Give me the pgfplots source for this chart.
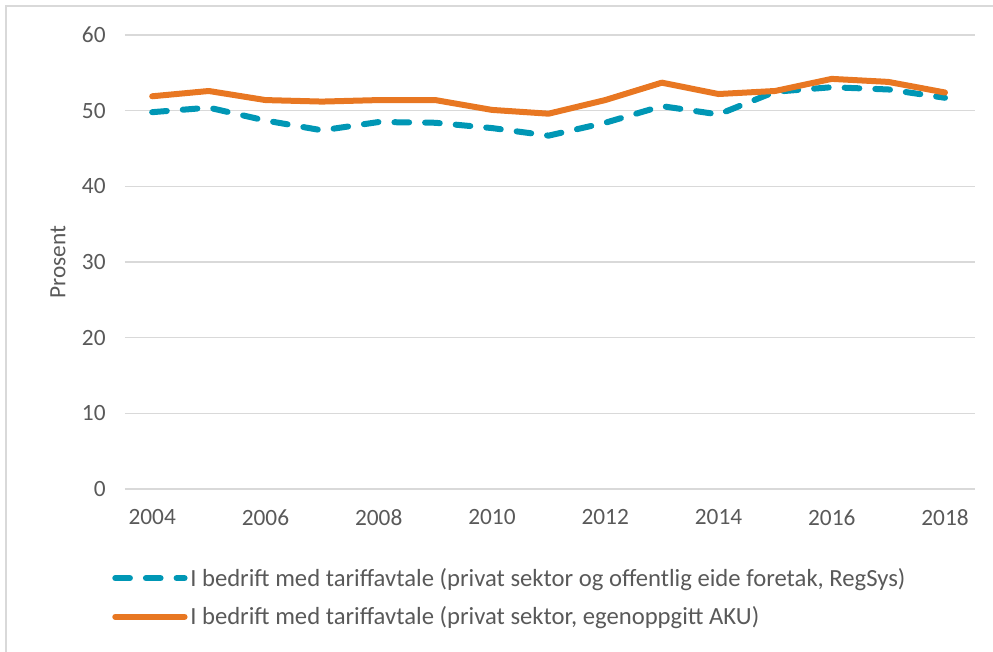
\documentclass[border=0pt]{standalone}
\usepackage{fontspec}
\setmainfont{Carlito}
\usepackage{pgfplots}
\pgfplotsset{compat=1.18}
\definecolor{serA}{RGB}{0,151,181}
\definecolor{serB}{RGB}{232,119,34}
\definecolor{gridc}{RGB}{217,217,217}
\definecolor{textc}{RGB}{89,89,89}
\begin{document}
\begin{tikzpicture}
\useasboundingbox (0,0) rectangle (744.75pt,489pt);
\draw[gridc, line width=1.5pt] (4.5pt,0pt) -- (4.5pt,484.5pt) -- (744.75pt,484.5pt);
\begin{axis}[
  at={(93.75pt,122.25pt)}, anchor=south west,
  scale only axis, width=637.5pt, height=340.5pt,
  xmin=2003.52, xmax=2018.53, ymin=0, ymax=60,
  axis line style={draw=none},
  major tick length=0pt,
  ymajorgrids, grid style={gridc, line width=1.1pt},
  xtick={2004,2006,...,2018}, ytick={0,10,...,60},
  /pgf/number format/1000 sep={},
  /pgf/number format/assume math mode=true,
  tick label style={font=\fontsize{17.5}{20}\selectfont, text=textc},
  yticklabel style={xshift=-11pt},
  xticklabel style={yshift=-12pt},
  ylabel={Prosent},
  ylabel style={at={(rel axis cs:-0.079,0.5)}, anchor=center, font=\fontsize{17.5}{20}\selectfont, text=textc},
  legend style={at={(rel axis cs:-0.02,-0.162)}, anchor=north west, draw=none, fill=none,
    font=\fontsize{18.5}{21}\selectfont, text=textc, row sep=10pt},
  legend cell align=left,
  legend image code/.code={\draw[#1] (0pt,0pt) -- (52pt,0pt);},
]
\addplot[serA, line width=4.5pt, line cap=round, dash pattern=on 11pt off 12pt] coordinates {
(2004,49.8)(2005,50.4)(2006,48.7)(2007,47.4)(2008,48.5)(2009,48.4)(2010,47.7)(2011,46.7)
(2012,48.4)(2013,50.6)(2014,49.5)(2015,52.5)(2016,53.1)(2017,52.8)(2018,51.7)};
\addlegendentry{I bedrift med tariffavtale (privat sektor og offentlig eide foretak, RegSys)}
\addplot[serB, line width=4.5pt, line cap=round, line join=round] coordinates {
(2004,51.9)(2005,52.6)(2006,51.4)(2007,51.2)(2008,51.4)(2009,51.4)(2010,50.1)(2011,49.6)
(2012,51.4)(2013,53.7)(2014,52.2)(2015,52.6)(2016,54.2)(2017,53.8)(2018,52.4)};
\addlegendentry{I bedrift med tariffavtale (privat sektor, egenoppgitt AKU)}
\end{axis}
\end{tikzpicture}
\end{document}
